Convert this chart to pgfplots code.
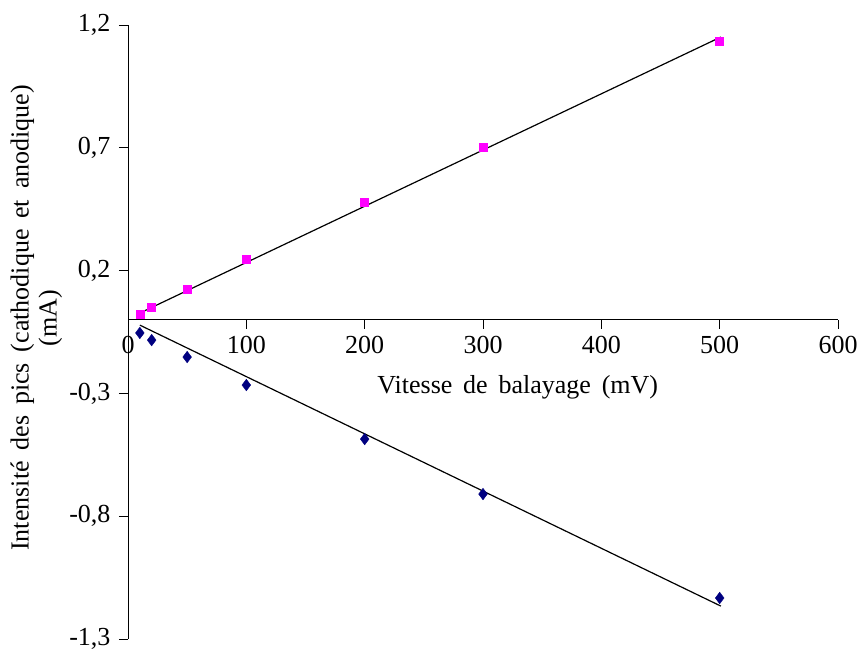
\documentclass[border=0pt]{standalone}
\usepackage{pgfplots}
\pgfplotsset{compat=1.18}
\usetikzlibrary{calc}
\usepackage{fontspec}
\setmainfont{Liberation Serif}
\definecolor{pinkm}{RGB}{255,0,255}
\definecolor{navyb}{RGB}{0,0,128}
\begin{document}
\begin{tikzpicture}
\begin{axis}[
  scale only axis, width=710pt, height=614pt,
  xmin=0, xmax=600, ymin=-1.3, ymax=1.2,
  axis x line=middle, axis y line=left,
  axis line style={-, line width=0.8pt},
  hide obscured x ticks=false,
  xtick={0,100,...,600},
  ytick={-1.3,-0.8,-0.3,0.2,0.7,1.2},
  yticklabels={{-1,3},{-0,8},{-0,3},{0,2},{0,7},{1,2}},
  xticklabels={0,100,200,300,400,500,600},
  tick align=outside, major tick length=9pt,
  tick style={line width=0.8pt, black},
  ticklabel style={font=\fontsize{26}{30}\selectfont},
  xticklabel style={yshift=-4pt},
  yticklabel style={xshift=-5pt},
  clip=false,
]
\addplot[only marks, mark=square*, mark size=4pt, color=pinkm] coordinates {
(10,0.023) (20,0.052) (50,0.125) (100,0.247) (200,0.479) (300,0.703) (500,1.134)};
\addplot[only marks, mark=diamond*, mark size=5.8pt, color=navyb] coordinates {
(10,-0.054) (20,-0.083) (50,-0.152) (100,-0.266) (200,-0.486) (300,-0.710) (500,-1.133)};
\addplot[black, line width=1.2pt] coordinates {(10,0.027) (501,1.151)};
\addplot[black, line width=1.2pt] coordinates {(10,-0.022) (501,-1.166)};
\node[font=\fontsize{26}{30}\selectfont, text depth=0pt] at (axis description cs:0.549,0.414) {Vitesse\, de\, balayage\, (mV)};
\node[font=\fontsize{26}{28}\selectfont, rotate=90, align=center] at (axis description cs:-0.129,0.523) {Intensité\, des\, pics\, (cathodique\, et\, anodique)\\(mA)};
\end{axis}
\pgfresetboundingbox
\path ($(current axis.south west)+(-128pt,-13pt)$) rectangle ($(current axis.north east)+(24pt,25pt)$);
\end{tikzpicture}
\end{document}
